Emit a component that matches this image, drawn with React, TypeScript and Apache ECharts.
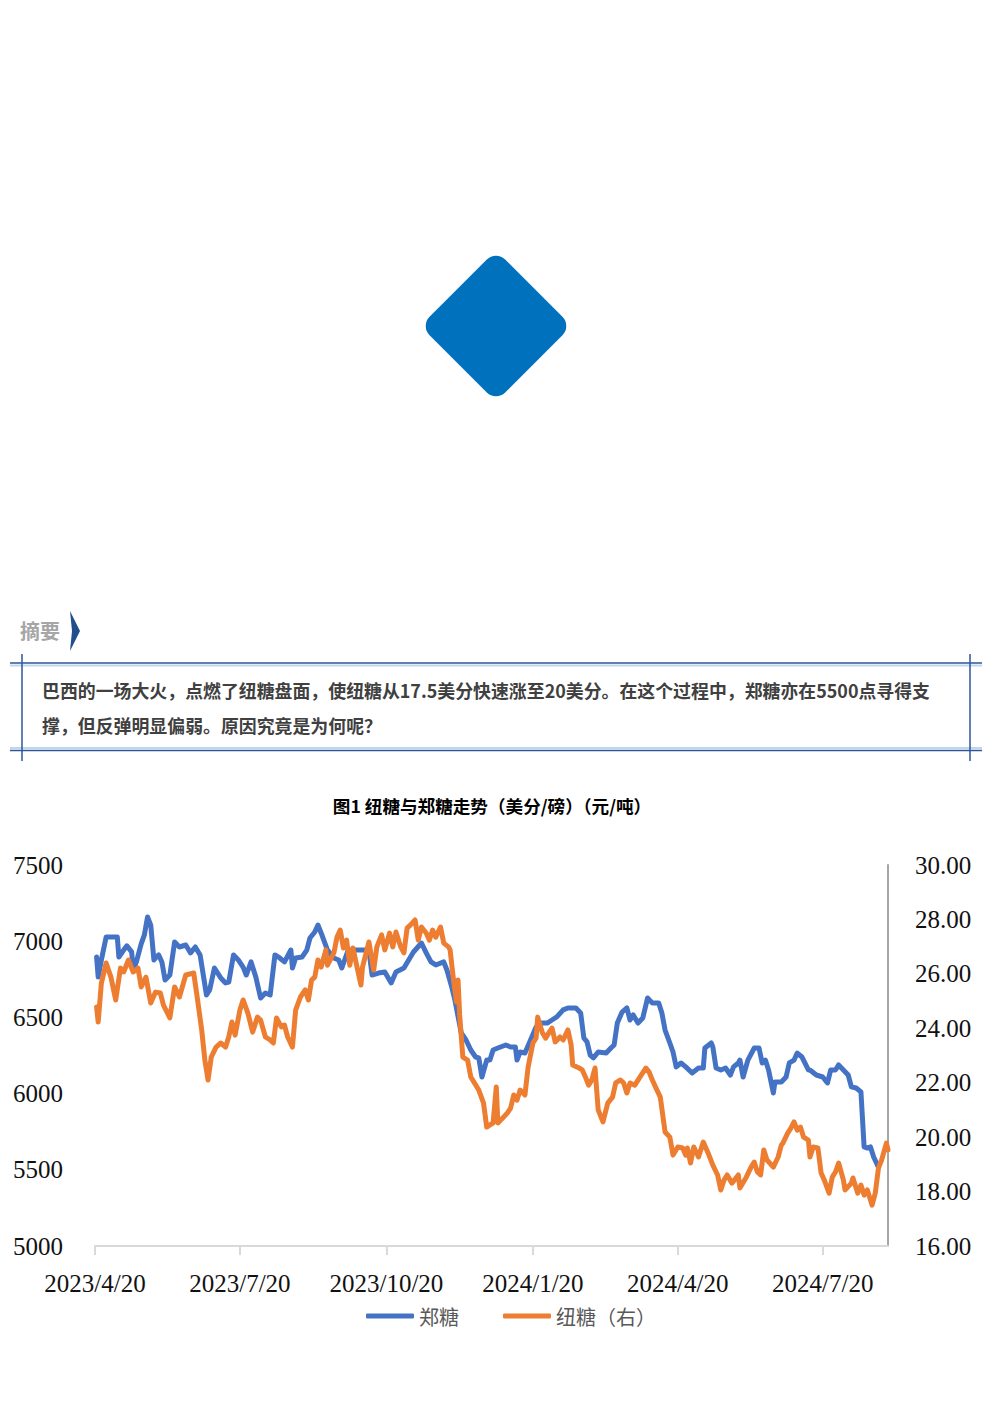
import React, { useEffect, useRef } from 'react';
import * as echarts from 'echarts';

// 郑糖 (元/吨) — left axis
const zzDates = [
  '2023-04-21','2023-04-22','2023-04-24','2023-04-27','2023-05-04','2023-05-05','2023-05-08','2023-05-10','2023-05-13','2023-05-14',
  '2023-05-16','2023-05-19','2023-05-21','2023-05-23','2023-05-25','2023-05-27','2023-05-28','2023-05-30','2023-06-01','2023-06-03',
  '2023-06-06','2023-06-09','2023-06-12','2023-06-16','2023-06-19','2023-06-22','2023-06-25','2023-06-29','2023-07-01','2023-07-04',
  '2023-07-08','2023-07-11','2023-07-13','2023-07-16','2023-07-19','2023-07-22','2023-07-24','2023-07-27','2023-07-30','2023-08-02',
  '2023-08-05','2023-08-08','2023-08-11','2023-08-14','2023-08-17','2023-08-21','2023-08-22','2023-08-24','2023-08-28','2023-08-31',
  '2023-09-02','2023-09-05','2023-09-07','2023-09-09','2023-09-13','2023-09-17','2023-09-20','2023-09-22','2023-09-26','2023-10-09',
  '2023-10-11','2023-10-15','2023-10-19','2023-10-23','2023-10-26','2023-10-31','2023-11-03','2023-11-06','2023-11-11','2023-11-14',
  '2023-11-17','2023-11-20','2023-11-25','2023-11-27','2023-11-30','2023-12-02','2023-12-06','2023-12-09','2023-12-12','2023-12-15',
  '2023-12-17','2023-12-19','2023-12-22','2023-12-24','2023-12-26','2023-12-29','2024-01-03','2024-01-06','2024-01-09','2024-01-10',
  '2024-01-12','2024-01-15','2024-01-18','2024-01-22','2024-01-25','2024-01-29','2024-02-01','2024-02-04','2024-02-08','2024-02-11',
  '2024-02-16','2024-02-19','2024-02-21','2024-02-23','2024-02-25','2024-02-27','2024-03-01','2024-03-06','2024-03-09','2024-03-11',
  '2024-03-13','2024-03-16','2024-03-19','2024-03-21','2024-03-23','2024-03-26','2024-03-29','2024-04-01','2024-04-04','2024-04-08',
  '2024-04-10','2024-04-12','2024-04-15','2024-04-17','2024-04-19','2024-04-22','2024-04-25','2024-04-29','2024-05-03','2024-05-06',
  '2024-05-07','2024-05-11','2024-05-12','2024-05-14','2024-05-17','2024-05-20','2024-05-23','2024-05-25','2024-05-28','2024-05-29',
  '2024-05-31','2024-06-03','2024-06-07','2024-06-10','2024-06-12','2024-06-14','2024-06-16','2024-06-19','2024-06-20','2024-06-24',
  '2024-06-27','2024-06-29','2024-07-02','2024-07-04','2024-07-07','2024-07-11','2024-07-12','2024-07-16','2024-07-20','2024-07-23',
  '2024-07-25','2024-07-28','2024-07-30','2024-08-02','2024-08-05','2024-08-07','2024-08-10','2024-08-13','2024-08-15','2024-08-17',
  '2024-08-19','2024-08-21','2024-08-24'
];
const zzValues = [
  6896,6765,6877,7028,7028,6896,6942,6970,6930,6811,
  6864,6982,7041,7159,7106,6877,6890,6910,6864,6745,
  6778,6995,6962,6975,6923,6962,6910,6647,6680,6824,
  6759,6726,6732,6910,6877,6830,6778,6864,6765,6627,
  6660,6647,6910,6890,6864,6942,6824,6890,6896,6942,
  7021,7060,7106,7054,6942,6890,6877,6824,6942,6942,
  6778,6791,6798,6726,6798,6824,6877,6929,6988,6923,
  6864,6844,6864,6811,6700,6614,6398,6352,6286,6240,
  6234,6109,6220,6220,6286,6299,6319,6306,6306,6220,
  6273,6266,6339,6437,6463,6463,6483,6503,6549,6562,
  6562,6529,6365,6339,6253,6234,6273,6266,6299,6319,
  6463,6535,6562,6483,6516,6463,6496,6627,6595,6595,
  6529,6417,6332,6273,6175,6201,6175,6135,6168,6168,
  6299,6332,6306,6168,6155,6168,6122,6175,6201,6220,
  6109,6220,6299,6299,6201,6220,6155,6004,6076,6076,
  6109,6201,6220,6266,6240,6155,6155,6122,6109,6070,
  6155,6155,6188,6155,6122,6044,6037,6011,5650,5643,
  5650,5584,5518
];

// 纽糖 (美分/磅) — right axis
const iceDates = [
  '2023-04-21','2023-04-22','2023-04-24','2023-04-27','2023-04-30','2023-05-03','2023-05-06','2023-05-08','2023-05-11','2023-05-14',
  '2023-05-17','2023-05-19','2023-05-22','2023-05-25','2023-05-28','2023-05-31','2023-06-02','2023-06-06','2023-06-09','2023-06-12',
  '2023-06-16','2023-06-21','2023-06-23','2023-06-26','2023-06-28','2023-06-30','2023-07-02','2023-07-05','2023-07-08','2023-07-11',
  '2023-07-13','2023-07-15','2023-07-17','2023-07-20','2023-07-22','2023-07-25','2023-07-28','2023-07-31','2023-08-02','2023-08-05',
  '2023-08-08','2023-08-10','2023-08-12','2023-08-15','2023-08-17','2023-08-19','2023-08-22','2023-08-24','2023-08-27','2023-08-30',
  '2023-09-01','2023-09-03','2023-09-05','2023-09-07','2023-09-09','2023-09-12','2023-09-13','2023-09-17','2023-09-19','2023-09-21',
  '2023-09-23','2023-09-25','2023-09-27','2023-09-29','2023-10-01','2023-10-04','2023-10-05','2023-10-09','2023-10-12','2023-10-14',
  '2023-10-17','2023-10-19','2023-10-22','2023-10-24','2023-10-26','2023-10-29','2023-10-31','2023-11-02','2023-11-04','2023-11-07',
  '2023-11-09','2023-11-11','2023-11-14','2023-11-16','2023-11-18','2023-11-20','2023-11-23','2023-11-25','2023-11-28','2023-11-29',
  '2023-12-01','2023-12-03','2023-12-04','2023-12-05','2023-12-07','2023-12-10','2023-12-12','2023-12-17','2023-12-20','2023-12-22',
  '2023-12-24','2023-12-26','2023-12-28','2023-12-29','2024-01-01','2024-01-04','2024-01-06','2024-01-08','2024-01-10','2024-01-12',
  '2024-01-15','2024-01-17','2024-01-20','2024-01-22','2024-01-23','2024-01-26','2024-01-28','2024-01-30','2024-02-01','2024-02-03',
  '2024-02-06','2024-02-08','2024-02-11','2024-02-13','2024-02-14','2024-02-18','2024-02-20','2024-02-22','2024-02-24','2024-02-26',
  '2024-02-28','2024-03-01','2024-03-04','2024-03-07','2024-03-10','2024-03-12','2024-03-15','2024-03-17','2024-03-19','2024-03-21',
  '2024-03-24','2024-03-28','2024-03-31','2024-04-02','2024-04-04','2024-04-06','2024-04-09','2024-04-12','2024-04-15','2024-04-17',
  '2024-04-20','2024-04-23','2024-04-25','2024-04-26','2024-04-28','2024-04-30','2024-05-03','2024-05-06','2024-05-09','2024-05-12',
  '2024-05-15','2024-05-17','2024-05-19','2024-05-21','2024-05-24','2024-05-28','2024-05-29','2024-06-02','2024-06-05','2024-06-07',
  '2024-06-09','2024-06-11','2024-06-13','2024-06-15','2024-06-19','2024-06-22','2024-06-24','2024-06-25','2024-06-28','2024-06-30',
  '2024-07-02','2024-07-04','2024-07-06','2024-07-08','2024-07-11','2024-07-12','2024-07-14','2024-07-17','2024-07-19','2024-07-21',
  '2024-07-24','2024-07-26','2024-07-28','2024-07-30','2024-08-02','2024-08-03','2024-08-07','2024-08-08','2024-08-11','2024-08-13',
  '2024-08-15','2024-08-17','2024-08-19','2024-08-20','2024-08-22','2024-08-24','2024-08-26','2024-08-29','2024-08-30'
];
const iceValues = [
  24.78,24.23,25.66,26.40,25.88,25.04,26.21,26.07,26.51,26.07,
  26.21,25.52,25.88,24.93,25.33,25.30,24.85,24.38,25.52,25.15,
  25.96,26.03,25.22,23.94,22.83,22.10,22.94,23.31,23.46,23.31,
  23.68,24.23,23.75,24.67,25.04,24.56,23.86,24.41,24.30,23.68,
  23.57,23.46,24.38,24.05,24.12,23.68,23.31,24.67,25.15,25.41,
  25.04,25.77,25.88,26.51,26.25,26.88,26.32,26.77,27.35,27.61,
  26.95,27.24,26.32,26.95,26.40,25.59,26.25,27.17,26.14,26.99,
  27.43,26.88,27.50,26.99,27.54,26.99,26.77,27.68,27.79,27.98,
  27.24,27.72,27.50,27.24,27.61,27.35,27.72,27.13,26.99,26.88,
  25.85,24.97,25.77,24.49,22.94,22.83,22.21,21.73,21.25,20.37,
  20.45,20.52,21.84,20.52,20.70,20.89,21.07,21.55,21.36,21.73,
  21.55,22.58,23.46,23.64,24.41,23.83,23.64,23.83,24.01,23.50,
  23.68,23.57,23.94,23.39,22.65,22.54,22.47,22.21,21.91,22.10,
  22.54,21.00,20.56,21.25,21.47,21.99,22.10,21.99,21.62,21.99,
  21.91,22.28,22.54,22.39,22.10,21.84,21.47,20.19,20.00,19.34,
  19.64,19.60,19.34,19.60,19.05,19.64,19.27,19.82,19.42,18.97,
  18.61,18.06,18.42,18.61,18.31,18.61,18.13,18.53,18.90,19.08,
  18.72,18.61,19.53,19.16,18.90,19.27,19.71,19.78,20.15,20.33,
  20.56,20.26,20.37,20.00,19.89,19.27,19.64,19.60,18.68,18.42,
  17.94,18.53,18.72,19.05,18.42,18.06,18.31,18.50,17.94,18.24,
  17.87,18.06,17.69,17.50,17.94,18.86,19.16,19.78,19.53
];

const xTickDates = ['2023-04-20', '2023-07-20', '2023-10-20', '2024-01-20', '2024-04-20', '2024-07-20'];
const xRange = ['2023-04-20', '2024-08-30'];
const seriesNames = ['郑糖', '纽糖（右）'];
const titleText = '图1 纽糖与郑糖走势（美分/磅）（元/吨）';
const abstractTitle = '摘要';
const abstractLine1 = '巴西的一场大火，点燃了纽糖盘面，使纽糖从17.5美分快速涨至20美分。在这个过程中，郑糖亦在5500点寻得支';
const abstractLine2 = '撑，但反弹明显偏弱。原因究竟是为何呢？';

function toTs(s: string): number {
  const [y, m, d] = s.split('-').map(Number);
  return new Date(y, m - 1, d).getTime();
}

const SERIF = '"Liberation Serif", "Times New Roman", serif';
const CJK = '"Noto Sans CJK SC", "Noto Sans", sans-serif';

export default function App() {
  const ref = useRef<HTMLDivElement>(null);

  useEffect(() => {
    if (!ref.current) return;
    const chart = echarts.init(ref.current, undefined, { renderer: 'svg' });
    const tickTs = xTickDates.map(toTs);
    const darkBlue = '#2f5597';
    const lightBlue = '#bdd7ee';

    chart.setOption({
      animation: false,
      backgroundColor: '#ffffff',
      grid: { left: 95, top: 865, width: 793, height: 381, containLabel: false },
      legend: {
        left: 366,
        top: 1306,
        padding: 0,
        icon: 'roundRect',
        itemWidth: 48,
        itemHeight: 5,
        itemGap: 44,
        textStyle: { fontSize: 20, fontFamily: CJK, color: '#595959' },
        data: seriesNames,
      },
      xAxis: {
        // linear date axis (timestamps), ticks at the quarterly dates
        type: 'value',
        min: toTs(xRange[0]),
        max: toTs(xRange[1]),
        axisLine: { show: true, onZero: false, lineStyle: { color: '#d9d9d9', width: 2 } },
        axisTick: { show: true, customValues: tickTs, length: 9, lineStyle: { color: '#d9d9d9', width: 2 } },
        axisLabel: {
          customValues: tickTs,
          margin: 25,
          fontSize: 25,
          fontFamily: SERIF,
          color: '#111',
          formatter: (v: number) => {
            const d = new Date(v);
            return `${d.getFullYear()}/${d.getMonth() + 1}/${d.getDate()}`;
          },
        },
        splitLine: { show: false },
      },
      yAxis: [
        {
          type: 'value',
          position: 'left',
          min: 5000,
          max: 7500,
          interval: 500,
          axisLine: { show: false },
          axisTick: { show: false },
          splitLine: { show: false },
          axisLabel: {
            margin: 32,
            fontSize: 25,
            fontFamily: SERIF,
            color: '#111',
            formatter: (v: number) => String(v),
          },
        },
        {
          type: 'value',
          position: 'right',
          min: 16,
          max: 30,
          interval: 2,
          axisLine: { show: true, onZero: false, lineStyle: { color: '#a6a6a6', width: 2 } },
          axisTick: { show: false },
          splitLine: { show: false },
          axisLabel: {
            margin: 27,
            fontSize: 25,
            fontFamily: SERIF,
            color: '#111',
            formatter: (v: number) => v.toFixed(2),
          },
        },
      ],
      series: [
        {
          name: seriesNames[0],
          type: 'line',
          yAxisIndex: 0,
          showSymbol: false,
          symbol: 'none',
          color: '#4472c4',
          lineStyle: { width: 5, color: '#4472c4', cap: 'round', join: 'round' },
          data: zzDates.map((d, i) => [toTs(d), zzValues[i]]),
        },
        {
          name: seriesNames[1],
          type: 'line',
          yAxisIndex: 1,
          showSymbol: false,
          symbol: 'none',
          color: '#ed7d31',
          lineStyle: { width: 5, color: '#ed7d31', cap: 'round', join: 'round' },
          data: iceDates.map((d, i) => [toTs(d), iceValues[i]]),
        },
      ],
      graphic: [
        {
          type: 'rect',
          x: 496,
          y: 326,
          rotation: Math.PI / 4,
          shape: { x: -53.5, y: -53.5, width: 107, height: 107, r: 13 },
          style: { fill: '#0071bc' },
        },
        {
          type: 'text',
          style: {
            x: 20, y: 630, text: abstractTitle, fill: '#a6a6a6',
            font: `bold 20px ${CJK}`, textVerticalAlign: 'middle',
          },
        },
        {
          type: 'polygon',
          shape: { points: [[70, 611], [80, 631], [70, 651], [72, 631]] },
          style: { fill: '#1f4e8c' },
        },
        { type: 'line', shape: { x1: 10, y1: 663, x2: 982, y2: 663 }, style: { stroke: darkBlue, lineWidth: 1.5 } },
        { type: 'line', shape: { x1: 10, y1: 665.5, x2: 982, y2: 665.5 }, style: { stroke: lightBlue, lineWidth: 2 } },
        { type: 'line', shape: { x1: 10, y1: 750.5, x2: 982, y2: 750.5 }, style: { stroke: darkBlue, lineWidth: 1.5 } },
        { type: 'line', shape: { x1: 10, y1: 748, x2: 982, y2: 748 }, style: { stroke: lightBlue, lineWidth: 2 } },
        { type: 'line', shape: { x1: 22, y1: 654, x2: 22, y2: 761 }, style: { stroke: darkBlue, lineWidth: 1.5 } },
        { type: 'line', shape: { x1: 970, y1: 654, x2: 970, y2: 761 }, style: { stroke: darkBlue, lineWidth: 1.5 } },
        {
          type: 'text',
          style: {
            x: 42, y: 690, text: abstractLine1, fill: '#404040',
            font: `bold 17.9px ${CJK}`, textVerticalAlign: 'middle',
          },
        },
        {
          type: 'text',
          style: {
            x: 42, y: 725, text: abstractLine2, fill: '#404040',
            font: `bold 17.9px ${CJK}`, textVerticalAlign: 'middle',
          },
        },
        {
          type: 'text',
          style: {
            x: 492, y: 805, text: titleText, fill: '#000000',
            font: `bold 17.6px ${CJK}`, textAlign: 'center', textVerticalAlign: 'middle',
          },
        },
      ],
    });

    return () => chart.dispose();
  }, []);

  return (
    <div
      ref={ref}
      style={{ position: 'absolute', left: 0, top: 0, width: 992, height: 1403, background: '#fff' }}
    />
  );
}
